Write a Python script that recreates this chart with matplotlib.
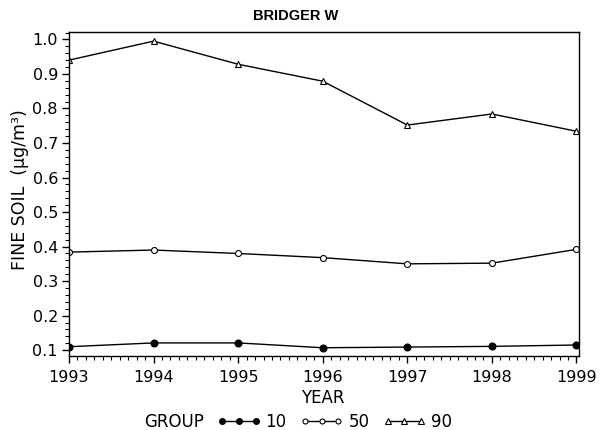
import matplotlib
matplotlib.use("Agg")
import matplotlib.pyplot as plt
from matplotlib.ticker import MultipleLocator, FormatStrFormatter
from matplotlib.lines import Line2D

years = [1993, 1994, 1995, 1996, 1997, 1998, 1999]
g10 = [0.110, 0.121, 0.121, 0.107, 0.109, 0.111, 0.115]
g50 = [0.384, 0.390, 0.380, 0.368, 0.350, 0.352, 0.392]
g90 = [0.940, 0.995, 0.928, 0.879, 0.752, 0.784, 0.734]
groups = ["10", "50", "90"]
xticks = [1993, 1994, 1995, 1996, 1997, 1998, 1999]
yticks = [0.1, 0.2, 0.3, 0.4, 0.5, 0.6, 0.7, 0.8, 0.9, 1.0]

plt.rcParams['font.family'] = ['DejaVu Sans']
fs = 11.5

fig = plt.figure(figsize=(6, 4.3), dpi=100)
ax = fig.add_axes([0.115, 0.172, 0.85, 0.754])

lw = 1.0
st10 = dict(color='black', lw=lw, marker='o', mfc='black', mec='black')
st50 = dict(color='black', lw=lw, marker='o', mfc='white', mec='black', mew=0.8)
st90 = dict(color='black', lw=lw, marker='^', mfc='white', mec='black', mew=0.8)
ax.plot(years, g10, ms=4.8, **st10)
ax.plot(years, g50, ms=4.3, **st50)
ax.plot(years, g90, ms=5.0, **st90)

ax.set_xlim(1993, 1999.03)
ax.set_ylim(0.083, 1.022)
ax.set_xticks(xticks)
ax.set_yticks(yticks)
ax.yaxis.set_major_formatter(FormatStrFormatter('%.1f'))
ax.xaxis.set_minor_locator(MultipleLocator(0.1))
ax.yaxis.set_minor_locator(MultipleLocator(0.02))
ax.tick_params(axis='both', which='major', direction='out', length=5, width=1, labelsize=fs)
ax.tick_params(axis='both', which='minor', direction='out', length=3, width=0.8)
ax.tick_params(axis='x', which='major', pad=5)
ax.tick_params(axis='y', which='major', pad=3)
for s in ax.spines.values():
    s.set_linewidth(1.0)

fig.text(0.538, 0.075, 'YEAR', fontsize=12, ha='center', va='center')
fig.text(0.034, 0.56, 'FINE SOIL  (μg/m³)', rotation=90, fontsize=12.5, ha='center', va='center')
fig.text(0.493, 0.963, 'BRIDGER W', fontsize=10.5, fontweight='bold',
         family=['Liberation Sans', 'DejaVu Sans'], ha='center', va='center')

fig.text(0.29, 0.019, 'GROUP', fontsize=12, ha='center', va='center')
handles = [
    Line2D([], [], ms=4, **st10),
    Line2D([], [], ms=3.6, **st50),
    Line2D([], [], ms=4, **st90),
]
fig.legend(handles, groups, loc='center left', bbox_to_anchor=(0.362, 0.019), ncol=3,
           numpoints=3, handlelength=2.6, handletextpad=0.3, columnspacing=0.8,
           frameon=False, fontsize=12, borderpad=0, borderaxespad=0)

fig.savefig('out.png', dpi=100)
